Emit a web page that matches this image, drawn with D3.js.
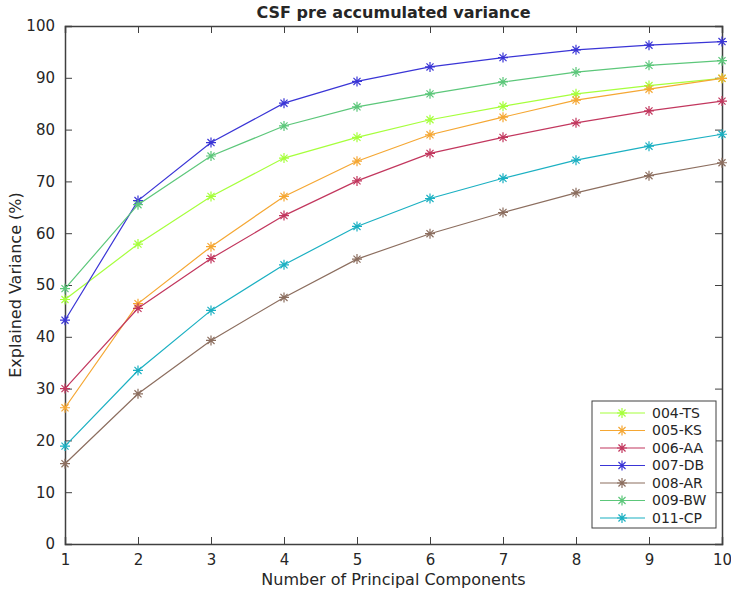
<!DOCTYPE html>
<html>
<head>
<meta charset="utf-8">
<script src="https://cdn.jsdelivr.net/npm/d3@7"></script>
<style>
  body { margin: 0; background: #fff; }
  text { font-family: 'DejaVu Sans', sans-serif; fill: #262626; }
</style>
</head>
<body>
<div id="chart"></div>
<script>
// components on the x axis
const components = [1, 2, 3, 4, 5, 6, 7, 8, 9, 10]
const seriesNames = ['004-TS', '005-KS', '006-AA', '007-DB', '008-AR', '009-BW', '011-CP']
const seriesColors = ['#a6ff3c', '#f5a733', '#c2375e', '#3a35d6', '#8c6e5f', '#5cc77a', '#1bb0c2']

// explained variance (%) per subject
const ts = [47.2, 57.9, 67.1, 74.5, 78.5, 81.9, 84.5, 86.9, 88.5, 89.9]
const ks = [26.3, 46.4, 57.4, 67.1, 73.9, 79.0, 82.4, 85.7, 87.8, 89.9]
const aa = [30.0, 45.5, 55.1, 63.4, 70.1, 75.4, 78.5, 81.3, 83.6, 85.5]
const db = [43.2, 66.3, 77.5, 85.1, 89.3, 92.1, 93.9, 95.4, 96.3, 97.0]
const ar = [15.5, 29.0, 39.3, 47.6, 55.0, 59.9, 64.0, 67.8, 71.1, 73.6]
const bw = [49.3, 65.5, 74.9, 80.7, 84.4, 86.9, 89.2, 91.1, 92.4, 93.3]
const cp = [18.9, 33.5, 45.1, 53.9, 61.3, 66.7, 70.6, 74.1, 76.8, 79.1]
const allValues = [ts, ks, aa, db, ar, bw, cp]

const yTicks = [0, 10, 20, 30, 40, 50, 60, 70, 80, 90, 100]

const margin = { top: 26, right: 9, bottom: 48, left: 65 }
const width = 731 - margin.left - margin.right
const height = 592 - margin.top - margin.bottom

const svg = d3.select('#chart')
  .append('svg')
  .attr('width', 731)
  .attr('height', 592)
  .append('g')
  .attr('transform', `translate(${margin.left}, ${margin.top})`)

const x = d3.scaleLinear().domain([1, 10]).range([0, width])
const y = d3.scaleLinear().domain([0, 100]).range([height, 0])

const axisColor = '#404040'

// axes with inward ticks (box style)
const xAxis = svg.append('g')
  .attr('transform', `translate(0, ${height})`)
  .call(d3.axisBottom(x).tickValues(components).tickSize(-7).tickPadding(10).tickFormat(d3.format('d')))
const xTop = svg.append('g')
  .call(d3.axisTop(x).tickValues(components).tickSize(-7).tickFormat(''))
const yAxis = svg.append('g')
  .call(d3.axisLeft(y).tickValues(yTicks).tickSize(-7).tickPadding(10))
const yRight = svg.append('g')
  .attr('transform', `translate(${width}, 0)`)
  .call(d3.axisRight(y).tickValues(yTicks).tickSize(-7).tickFormat(''))

;[xAxis, xTop, yAxis, yRight].forEach(a => {
  a.selectAll('path.domain').attr('stroke', axisColor).attr('stroke-width', 1.5)
  a.selectAll('.tick line').attr('stroke', axisColor)
  a.selectAll('.tick text').style('font-size', '15px').style('font-family', 'DejaVu Sans, sans-serif').attr('fill', '#262626')
})

// asterisk marker path
function star (r) {
  const d = r * Math.SQRT1_2
  return `M${-r},0L${r},0M0,${-r}L0,${r}M${-d},${-d}L${d},${d}M${-d},${d}L${d},${-d}`
}

const line = d3.line()
  .x((d, i) => x(components[i]))
  .y(d => y(d))

allValues.forEach((vals, k) => {
  svg.append('path')
    .datum(vals)
    .attr('d', line)
    .attr('fill', 'none')
    .attr('stroke', seriesColors[k])
    .attr('stroke-width', 1.2)
  svg.append('g')
    .selectAll('path')
    .data(vals)
    .join('path')
    .attr('transform', (d, i) => `translate(${x(components[i])}, ${y(d)})`)
    .attr('d', star(5))
    .attr('stroke', seriesColors[k])
    .attr('stroke-width', 1.2)
    .attr('fill', 'none')
})

// title and labels
svg.append('text')
  .attr('x', width / 2)
  .attr('y', -8)
  .attr('text-anchor', 'middle')
  .style('font-size', '16px')
  .style('font-weight', 'bold')
  .text('CSF pre accumulated variance')

svg.append('text')
  .attr('x', width / 2)
  .attr('y', height + 41)
  .attr('text-anchor', 'middle')
  .style('font-size', '16px')
  .text('Number of Principal Components')

svg.append('text')
  .attr('transform', 'rotate(-90)')
  .attr('x', -height / 2)
  .attr('y', -44)
  .attr('text-anchor', 'middle')
  .style('font-size', '16px')
  .text('Explained Variance (%)')

// legend
const legend = svg.append('g')
  .attr('transform', `translate(${592 - margin.left}, ${401 - margin.top})`)
legend.append('rect')
  .attr('width', 124)
  .attr('height', 127)
  .attr('fill', '#fff')
  .attr('stroke', axisColor)
  .attr('stroke-width', 1)

seriesNames.forEach((name, k) => {
  const row = legend.append('g').attr('transform', `translate(0, ${12 + k * 17.5})`)
  row.append('line')
    .attr('x1', 8).attr('x2', 53)
    .attr('stroke', seriesColors[k])
    .attr('stroke-width', 1.2)
  row.append('path')
    .attr('transform', 'translate(30, 0)')
    .attr('d', star(5))
    .attr('stroke', seriesColors[k])
    .attr('stroke-width', 1.2)
  row.append('text')
    .attr('x', 60)
    .attr('dy', '0.35em')
    .style('font-size', '14px')
    .text(name)
})
</script>
</body>
</html>
